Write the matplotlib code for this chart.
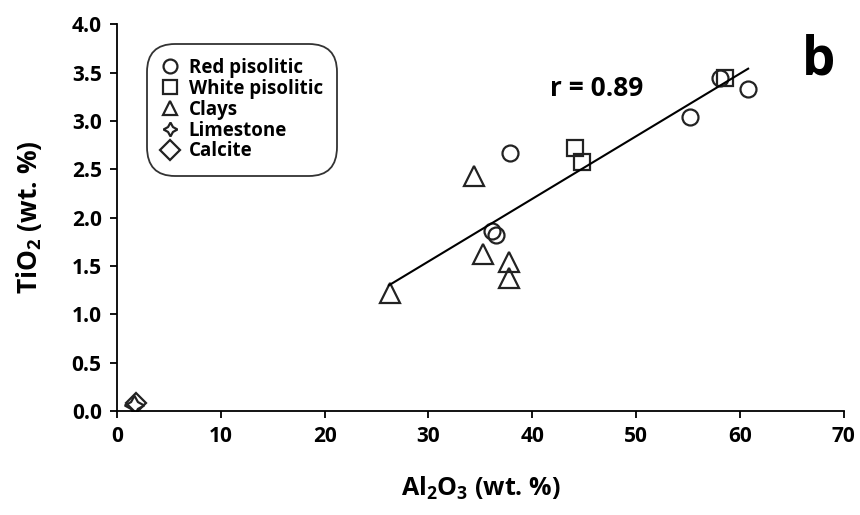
import matplotlib
matplotlib.use("Agg")
import matplotlib.pyplot as plt

# Al2O3 (x) and TiO2 (y), wt. %
red_x = [37.9, 36.1, 36.5, 55.2, 58.1, 60.8]
red_y = [2.67, 1.86, 1.82, 3.04, 3.44, 3.33]
white_x = [44.1, 44.8, 58.6]
white_y = [2.72, 2.58, 3.44]
clay_x = [34.4, 26.3, 35.3, 37.8, 37.8]
clay_y = [2.43, 1.22, 1.62, 1.54, 1.38]
lime_x = [1.6]
lime_y = [0.06]
calc_x = [1.8]
calc_y = [0.08]
trend_x = [26.2, 60.8]
trend_y = [1.30, 3.54]

plt.rcParams["font.family"] = ["Open Sans", "DejaVu Sans"]
plt.rcParams["font.weight"] = "bold"
plt.rcParams["mathtext.fontset"] = "custom"
plt.rcParams["mathtext.rm"] = "Open Sans:bold"
plt.rcParams["mathtext.bf"] = "Open Sans:bold"
plt.rcParams["mathtext.it"] = "Open Sans:bold"

fig = plt.figure(figsize=(8.6, 5.15), dpi=100)
ax = fig.add_axes([0.136, 0.202, 0.845, 0.751])

mk = dict(linestyle="none", markerfacecolor="none", markeredgecolor="#222222",
          markeredgewidth=1.6)
ax.plot(red_x, red_y, marker="o", markersize=11.5, label="Red pisolitic", **mk)
ax.plot(white_x, white_y, marker="s", markersize=12, label="White pisolitic", **mk)
ax.plot(clay_x, clay_y, marker="^", markersize=14, label="Clays", **mk)
ax.plot(lime_x, lime_y, marker=(4, 1, 0), markersize=14, label="Limestone", **mk)
ax.plot(calc_x, calc_y, marker="D", markersize=10, label="Calcite", **mk)
ax.plot(trend_x, trend_y, color="black", linewidth=1.5)

ax.set_xlim(0, 70)
ax.set_ylim(0, 4.0)
ax.set_xticks(range(0, 71, 10))
ax.set_yticks([i * 0.5 for i in range(9)])
ax.set_yticklabels([f"{i * 0.5:.1f}" for i in range(9)])
for s in ("top", "right"):
    ax.spines[s].set_visible(False)
for s in ("left", "bottom"):
    ax.spines[s].set_linewidth(1.3)
ax.tick_params(direction="out", length=5, width=1.3, labelsize=15, pad=6)
for lbl in ax.get_xticklabels() + ax.get_yticklabels():
    lbl.set_fontweight("bold")

ax.set_xlabel(r"Al$_2$O$_3$ (wt. %)", fontsize=18, fontweight="bold", labelpad=20)
ax.set_ylabel(r"TiO$_2$ (wt. %)", fontsize=19, fontweight="bold", labelpad=20)

ax.text(0.66, 0.835, "r = 0.89", transform=ax.transAxes, fontsize=19, fontweight="bold",
        ha="center", va="center")
ax.text(0.965, 0.905, "b", transform=ax.transAxes, fontsize=38, fontweight="bold",
        ha="center", va="center")

leg = ax.legend(loc="upper left", bbox_to_anchor=(0.046, 0.94), fontsize=13.5,
                frameon=True, fancybox=True, edgecolor="black", handlelength=1.0,
                handletextpad=0.5, labelspacing=0.05, borderpad=0.55, borderaxespad=0)
leg.get_frame().set_linewidth(1.3)
leg.get_frame().set_boxstyle("round,pad=0.2,rounding_size=1.5")
for t in leg.get_texts():
    t.set_fontweight("bold")
for h in leg.legend_handles:
    h.set_markersize(10)

fig.savefig("out.png", dpi=100)
